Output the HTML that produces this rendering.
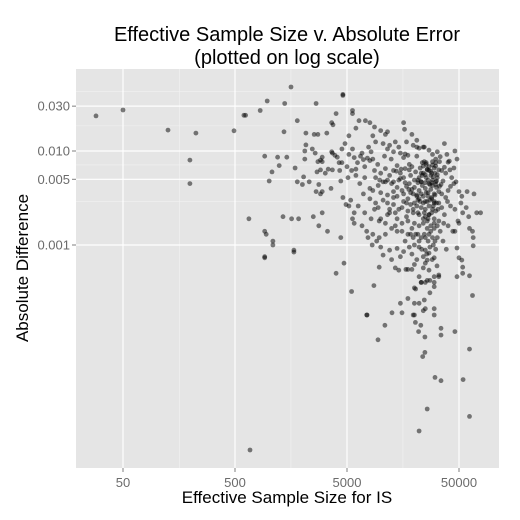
<!DOCTYPE html>
<html><head><meta charset="utf-8"><style>
html,body{margin:0;padding:0;background:#fff;}
svg{display:block;font-family:"Liberation Sans",Arial,sans-serif;}
</style></head><body>
<svg id="chart" width="520" height="520" viewBox="0 0 520 520" xmlns="http://www.w3.org/2000/svg">
<rect x="0" y="0" width="520" height="520" fill="#fff"/>
<text x="287" y="41" font-size="20" text-anchor="middle" fill="#000">Effective Sample Size v. Absolute Error</text>
<text x="287" y="64" font-size="20" text-anchor="middle" fill="#000">(plotted on log scale)</text>
<rect x="76" y="69" width="423" height="399" fill="#e5e5e5"/>
<g id="grid"></g>
<g id="points"></g>
<g id="axes"></g>
<text x="287" y="503" font-size="17" text-anchor="middle" fill="#000">Effective Sample Size for IS</text>
<text transform="translate(28,268) rotate(-90)" font-size="17" text-anchor="middle" fill="#000">Absolute Difference</text>
</svg>
<script>
const xTicks=[50,500,5000,50000];
const xTickLabels=["50","500","5000","50000"];
const yTicks=[0.03,0.01,0.005,0.001];
const yTickLabels=["0.030","0.010","0.005","0.001"];
const xMinor=[160,1580,15800];
const yMinor=[0.043,0.0185,0.0071,0.0029];
const ess=[
28.7,50,126,224,198,198,490,622,665,680,
1580,4600,970,1390,2650,600,840,1800,1370,2150,2550,2750,3300,2150,2100,2450,2600,920,1200,1450,2100,1240,1720,1070,1010,2050,1800,2000,2300,
2750,2900,3000,3000,2700,2900,3200,3400,3700,2800,2650,2900,3000,3600,3700,3900,4100,3650,4250,4500,4400,5100,
1340,1600,1850,2500,2800,3000,3350,950,1090,920,1680,1680,4400,4700,4000,4900,5200,5800,5600,5800,
4600,5600,5600,4000,3650,3750,6400,7300,8000,8800,16000,16300,19000,21000,11500,11000,24000,37000,
46000,48000,45000,47000,59000,68000,78000,46000,50000,62000,67000,67000,920,1090,920,54000,53000,62000,66000,20000,20500,
23000,25000,27500,30000,33000,30000,27500,24500,22000,20000,17500,15000,15500,20000,24000,25000,30000,30000,7500,9700,8700,5500,16800,17500,19000,
7560,9460,10900,12600,19500,20400,21800,22800,24800,23700,24800,30500,34500,54400,26000,62000,62000,22000,46000,34500,34500,
7000,7600,8000,8500,15000,16500,17500,21000,22000,24500,23500,24500,25500,29000,31000,33500,
9800,10500,11500,13000,14500,16000,20000,21500,23000,25000,26500,28500,31000,18000,20500,23000,26000,28500,
8000,8500,10000,11500,13000,18500,21000,21500,24000,26000,28500,30000,33000,
9500,12000,13500,15500,17500,19500,22000,25000,27000,30000,33000,
9700,11000,13500,15500,17500,19500,22000,25000,27000,29000,7500,8500,9700,
8400,10000,12000,14000,20000,22000,25000,27000,30000,26000,24000,13500,14500,27000,24000,25000,
22000,23000,26000,30000,33000,48000,54000,50000,48000,
44000,49000,46000,52000,54000,58000,61000,66000,72000,40000,45000,50000,53000,38000,37000,40000,
16000,18000,19000,21000,22500,24000,25500,27000,28000,29000,
30500,32000,20000,22000,23500,25000,26500,28000,30000,31500,
17000,19000,21000,23000,25000,27000,29000,31000,16000,18500,
20000,22000,24000,26000,28000,30000,32000,24500,26500,29500,
31000,23000,27500,12000,13000,14000,11000,10000,9000,12500,
14000,15500,11500,10500,9000,8000,7000,6500,6000,5500,
6200,7200,5800,6800,7800,9000,10500,12000,13500,8500,
10000,11500,13000,14500,17000,19500,6000,5200,4800,4500,
5200,5000,4300,4600,5400,6300,7200,8200,6800,7700,
9200,11000,12500,14000,15500,17000,16500,18000,19000,21000,
20000,15000,12500,10500,35000,36000,38000,35000,37000,34000,
36000,38500,40000,42000,42000,43000,41000,39000,34000,32000,
29000,27000,35000,33000,31000,8800,22000,24000,27500,21500,
19000,17500,33500,30000,25500,18500,16500,15000,14000,13000,
11500,10000,
26000,28000,30000,32000,27000,29000,31000,33000,26500,28500,
30500,32500,25000,27000,29500,31500,24000,26000,28000,30000,
32000,23000,25500,27500,29500,31500,22500,24500,26500,28500,
30500,21000,23000,25000,27000,29000,31000,20000,22000,24000,
18000,19500,21500,23500,16000,17500,19500,21500,14500,16500,
18500,13000,15000,17000,12000,14000,16000,11000,9500,8800,
7200,6600,6000,5600,8200,9400,10800,12400,13800,15200,
17800,20500,23200,25800,28800,31800,34500,36500,39500,41500
];
const diff=[
0.0236,0.0273,0.0167,0.0155,0.008,0.0045,0.0164,0.024,0.0019,0.0000066,
0.048,0.039,0.034,0.032,0.032,0.024,0.027,0.021,0.016,0.0155,0.015,0.015,0.0155,0.0116,0.010,0.0105,0.0095,0.0088,0.0086,0.0086,0.0082,0.007,0.0066,0.006,0.0048,0.0053,0.0047,0.0044,0.0047,
0.0077,0.008,0.0086,0.0077,0.006,0.0063,0.0058,0.0064,0.0063,0.0044,0.0037,0.0035,0.0037,0.004,0.0095,0.009,0.0086,0.0098,0.0075,0.0075,0.0048,0.0052,
0.002,0.0019,0.0019,0.002,0.0016,0.0022,0.0014,0.0013,0.001,0.00073,0.00088,0.00084,0.0012,0.00064,0.0005,0.0027,0.0026,0.0022,0.0019,0.0017,
0.04,0.027,0.025,0.025,0.02,0.019,0.021,0.021,0.02,0.018,0.02,0.017,0.015,0.013,0.016,0.015,0.011,0.012,
0.01,0.0082,0.0066,0.0047,0.0037,0.0035,0.0022,0.0014,0.0017,0.0015,0.0012,0.00098,0.0014,0.0011,0.00075,0.0005,0.00069,0.00047,0.00029,0.00035,0.00034,
0.0004,0.0004,0.00042,0.00046,0.00048,0.00036,0.00031,0.00026,0.00024,0.00024,0.00027,0.00024,0.00019,0.00018,0.0002,0.00021,0.00021,0.00018,0.00018,0.00058,0.00037,0.00032,0.00055,0.00055,0.00055,
0.00018,0.000098,0.00014,0.00019,0.00018,0.00015,0.00012,0.00014,0.000105,0.000065,0.000072,0.000039,0.000036,0.000037,0.000018,0.000078,0.000015,0.0000105,0.00012,0.00013,0.00011,
0.0081,0.0084,0.0079,0.0082,0.0095,0.0093,0.009,0.011,0.0107,0.011,0.0075,0.0077,0.0075,0.0077,0.0075,0.0077,
0.0049,0.0047,0.0049,0.0047,0.0049,0.0052,0.0049,0.0046,0.0047,0.0046,0.0049,0.0046,0.0044,0.0063,0.006,0.0058,0.0063,0.0058,
0.004,0.0038,0.0036,0.0034,0.0032,0.0036,0.0033,0.003,0.0028,0.0029,0.0032,0.0029,0.0028,
0.0025,0.0024,0.0022,0.0025,0.0023,0.0022,0.0021,0.002,0.0021,0.0019,0.0018,
0.0018,0.0017,0.0016,0.0014,0.0013,0.0012,0.0011,0.0012,0.0013,0.0012,0.0014,0.0013,0.0012,
0.001,0.00095,0.00088,0.00092,0.001,0.00095,0.00088,0.00082,0.00073,0.00069,0.00075,0.00057,0.00054,0.00054,0.00057,0.00064,
0.00046,0.0004,0.00042,0.0004,0.00046,0.00046,0.00058,0.00073,0.00093,
0.0014,0.0018,0.0024,0.0028,0.0022,0.0025,0.002,0.0014,0.0022,0.0038,0.0045,0.0037,0.0033,0.0058,0.0067,0.0076,
0.0085,0.0072,0.0068,0.0088,0.0066,0.0058,0.0052,0.0068,0.0055,0.0049,
0.0058,0.0052,0.0041,0.0038,0.0043,0.004,0.0036,0.0039,0.0035,0.0041,
0.0042,0.0039,0.0026,0.0025,0.0024,0.0026,0.0024,0.0023,0.0029,0.0027,
0.0017,0.0016,0.0017,0.0015,0.0016,0.0015,0.0016,0.0013,0.0011,0.001,
0.0009,0.0012,0.00095,0.0055,0.0062,0.007,0.0065,0.0058,0.0052,0.0045,
0.0041,0.0038,0.0028,0.003,0.0028,0.0031,0.0035,0.0045,0.0055,0.0062,
0.0075,0.0068,0.0085,0.0095,0.011,0.0125,0.012,0.0115,0.0125,0.0145,
0.0165,0.0105,0.0098,0.011,0.0125,0.0115,0.0175,0.0145,0.012,0.0105,
0.0092,0.0068,0.0062,0.0032,0.003,0.0026,0.0022,0.0019,0.0016,0.0012,
0.0011,0.0013,0.0015,0.0019,0.0017,0.002,0.0011,0.00095,0.0008,0.0007,
0.00062,0.00075,0.0007,0.00078,0.0062,0.0048,0.0032,0.0025,0.0021,0.0014,
0.0011,0.0009,0.0016,0.0026,0.0042,0.0052,0.0078,0.0092,0.0087,0.0098,
0.0092,0.0102,0.0035,0.0063,0.0069,0.0024,0.0052,0.0033,0.003,0.0022,
0.0015,0.0018,0.0042,0.0028,0.0072,0.0055,0.0065,0.0058,0.0033,0.0027,
0.0021,0.0019,
0.0064,0.0061,0.0066,0.0056,0.0045,0.0043,0.0047,0.0037,0.0033,0.0031,
0.0034,0.0024,0.0029,0.0021,0.0026,0.0028,0.0019,0.0018,0.0014,0.0017,
0.0012,0.0035,0.0036,0.0044,0.0053,0.0048,0.0029,0.0022,0.0019,0.0022,
0.0011,0.0034,0.0047,0.0056,0.0062,0.0071,0.0082,0.0028,0.0031,0.0069,
0.0045,0.0035,0.0049,0.0055,0.0035,0.0031,0.0024,0.0013,0.0024,0.0046,
0.0013,0.0037,0.0051,0.0028,0.0022,0.0014,0.00085,0.0047,0.0043,0.0062,
0.0052,0.0088,0.0064,0.0105,0.0098,0.0072,0.0088,0.0082,0.0061,0.0064,
0.0039,0.0013,0.0009,0.0008,0.0007,0.0006,0.0044,0.0017,0.0029,0.0063
];
const NS='http://www.w3.org/2000/svg';
const PX0=76,PX1=499,PY0=69,PY1=468;
function xScale(v){return 123+112*Math.log10(v/50);}
function yScale(v){return 245-94*Math.log10(v/0.001);}
function mk(tag,attrs,parent){const e=document.createElementNS(NS,tag);for(const k in attrs)e.setAttribute(k,attrs[k]);parent.appendChild(e);return e;}
const grid=document.getElementById('grid');
xMinor.forEach(v=>{const l=mk('line',{x1:xScale(v),x2:xScale(v),y1:PY0,y2:PY1,stroke:'#f2f2f2','stroke-width':0.6},grid);

});
yMinor.forEach(v=>{const l=mk('line',{x1:PX0,x2:PX1,y1:yScale(v),y2:yScale(v),stroke:'#f2f2f2','stroke-width':0.6},grid);

});
xTicks.forEach(v=>{const l=mk('line',{x1:xScale(v),x2:xScale(v),y1:PY0,y2:PY1,stroke:'#fff','stroke-width':1.2},grid);

});
yTicks.forEach(v=>{const l=mk('line',{x1:PX0,x2:PX1,y1:yScale(v),y2:yScale(v),stroke:'#fff','stroke-width':1.2},grid);

});
const pts=document.getElementById('points');
const n=Math.min(ess.length,diff.length);
for(let i=0;i<n;i++){
  const c=mk('circle',{cx:xScale(ess[i]).toFixed(1),cy:yScale(diff[i]).toFixed(1),r:2.4,fill:'#000','fill-opacity':0.5},pts);
  
  
}
const axes=document.getElementById('axes');
xTicks.forEach((v,i)=>{const x=xScale(v);
  const t=mk('line',{x1:x,x2:x,y1:PY1,y2:PY1+4,stroke:'#7f7f7f','stroke-width':1},axes);
  
  
  const tx=mk('text',{x:x,y:PY1+19,'font-size':13,'text-anchor':'middle',fill:'#6b6b6b'},axes);
  tx.textContent=xTickLabels[i];
  
  });
yTicks.forEach((v,i)=>{const y=yScale(v);
  const t=mk('line',{x1:PX0-4,x2:PX0,y1:y,y2:y,stroke:'#7f7f7f','stroke-width':1},axes);
  
  
  const tx=mk('text',{x:PX0-6,y:y+4.5,'font-size':13,'text-anchor':'end',fill:'#6b6b6b'},axes);
  tx.textContent=yTickLabels[i];
  
  });
</script>
</body></html>
